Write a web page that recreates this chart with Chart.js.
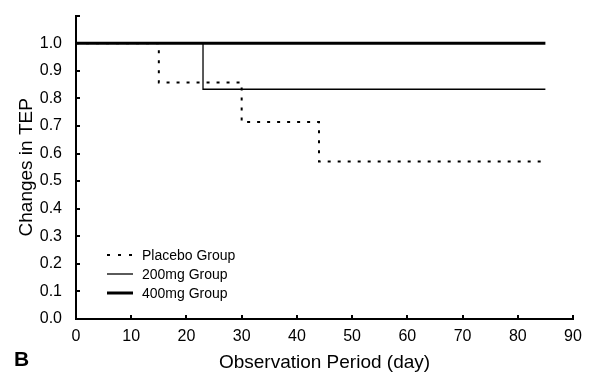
<!DOCTYPE html>
<html>
<head>
<meta charset="utf-8">
<script src="https://cdn.jsdelivr.net/npm/chart.js@4/dist/chart.umd.min.js"></script>
<style>
  html, body { margin: 0; padding: 0; background: #fff; }
  #wrap { width: 590px; height: 374px; }
</style>
</head>
<body>
<div id="wrap"><canvas id="chart" width="590" height="374"></canvas></div>
<script>
// survival-style step data
const placeboDays = [0, 15, 30, 44, 85];
const placeboValues = [1.0, 0.857, 0.714, 0.571, 0.571];
const mg200Days = [0, 23, 85];
const mg200Values = [1.0, 0.833, 0.833];
const mg400Days = [0, 85];
const mg400Values = [1.0, 1.0];

const seriesLabels = ['Placebo Group', '200mg Group', '400mg Group'];
const xTicks = [0, 10, 20, 30, 40, 50, 60, 70, 80, 90];
const yTicks = [0.0, 0.1, 0.2, 0.3, 0.4, 0.5, 0.6, 0.7, 0.8, 0.9, 1.0];

const FONT = '"Liberation Sans", Arial, sans-serif';

function toPoints(xs, ys) {
    return xs.map((x, i) => ({ x: x, y: ys[i] }));
}

// ticks pointing into the plot, legend inside the plot, panel letter
const decorPlugin = {
    id: 'decor',
    afterDraw(chart) {
        const ctx = chart.ctx;
        const xs = chart.scales.x;
        const ys = chart.scales.y;
        const area = chart.chartArea;

        ctx.save();
        ctx.strokeStyle = '#000';
        ctx.lineWidth = 2;
        xs.ticks.forEach(t => {
            const px = Math.round(xs.getPixelForValue(t.value));
            ctx.beginPath();
            ctx.moveTo(px, area.bottom);
            ctx.lineTo(px, area.bottom - 4);
            ctx.stroke();
        });
        ys.ticks.forEach(t => {
            const py = Math.round(ys.getPixelForValue(t.value));
            ctx.beginPath();
            ctx.moveTo(area.left, py);
            ctx.lineTo(area.left + 4, py);
            ctx.stroke();
        });

        // legend
        const lx = 107, lw = 26, tx = 142;
        const rows = [255, 274, 293];
        chart.data.datasets.forEach((ds, i) => {
            ctx.beginPath();
            ctx.setLineDash(i === 0 ? [3, 8] : []);
            ctx.lineWidth = ds.borderWidth;
            ctx.strokeStyle = ds.borderColor;
            ctx.moveTo(lx, rows[i]);
            ctx.lineTo(lx + lw, rows[i]);
            ctx.stroke();
            ctx.setLineDash([]);
            ctx.fillStyle = '#000';
            ctx.font = '14px ' + FONT;
            ctx.textBaseline = 'middle';
            ctx.textAlign = 'left';
            ctx.fillText(ds.label, tx, rows[i] + 1);
        });

        ctx.font = 'bold 21px ' + FONT;
        ctx.textBaseline = 'middle';
        ctx.fillText('B', 14, 360);
        ctx.restore();
    }
};

new Chart(document.getElementById('chart'), {
    type: 'line',
    data: {
        datasets: [
            {
                label: seriesLabels[0],
                data: toPoints(placeboDays, placeboValues),
                stepped: true,
                borderColor: '#000',
                borderWidth: 2,
                borderDash: [3, 7],
                pointRadius: 0,
                fill: false,
                order: 2
            },
            {
                label: seriesLabels[1],
                data: toPoints(mg200Days, mg200Values),
                stepped: true,
                borderColor: '#000',
                borderWidth: 1.3,
                pointRadius: 0,
                fill: false,
                order: 1
            },
            {
                label: seriesLabels[2],
                data: toPoints(mg400Days, mg400Values),
                stepped: true,
                borderColor: '#000',
                borderWidth: 3,
                pointRadius: 0,
                fill: false,
                order: 0
            }
        ]
    },
    options: {
        responsive: false,
        animation: false,
        layout: { padding: { left: 0, right: 17, top: 12, bottom: 0 } },
        plugins: {
            legend: { display: false },
            tooltip: { enabled: false }
        },
        scales: {
            x: {
                type: 'linear',
                min: 0,
                max: 90,
                afterFit: s => { s.height = 55; },
                afterBuildTicks: s => { s.ticks = xTicks.map(v => ({ value: v })); },
                grid: { display: false },
                border: { display: true, color: '#000', width: 2 },
                ticks: {
                    color: '#000',
                    padding: 0,
                    font: { family: FONT, size: 16 },
                    maxRotation: 0,
                    callback: v => String(v)
                },
                title: {
                    display: true,
                    text: 'Observation Period (day)',
                    color: '#000',
                    font: { family: FONT, size: 19 },
                    padding: { top: 0, bottom: 0 }
                }
            },
            y: {
                type: 'linear',
                min: 0,
                max: 1.1,
                afterFit: s => { s.width = 76; },
                afterBuildTicks: s => { s.ticks = yTicks.concat([1.1]).map(v => ({ value: v })); },
                grid: { display: false },
                border: { display: true, color: '#000', width: 2 },
                ticks: {
                    color: '#000',
                    padding: 6,
                    font: { family: FONT, size: 16 },
                    callback: v => (v > 1.05 ? '' : v.toFixed(1))
                },
                title: {
                    display: true,
                    text: 'Changes in TEP',
                    color: '#000',
                    font: { family: FONT, size: 19 },
                    padding: { top: 15, bottom: 0 }
                }
            }
        }
    },
    plugins: [decorPlugin]
});
</script>
</body>
</html>
